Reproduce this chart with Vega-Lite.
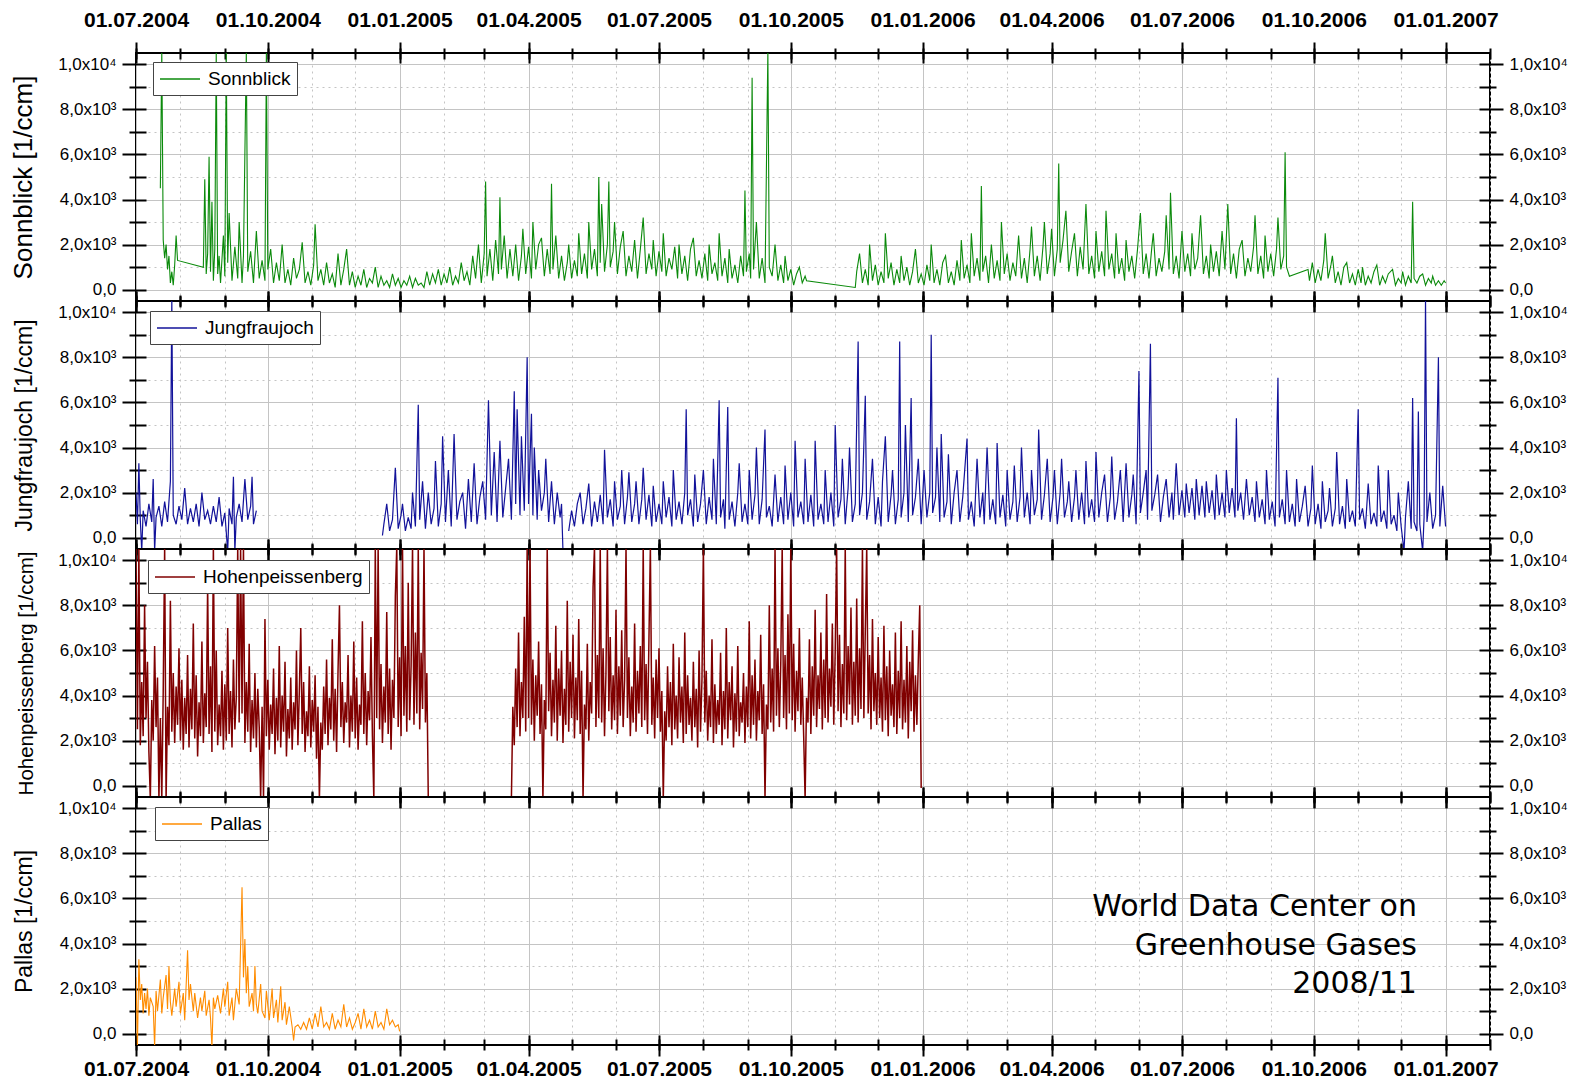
{
"$schema":"https://vega.github.io/schema/vega-lite/v6.json",
"background":"white",
"padding":{"left":9,"top":8,"right":0,"bottom":0},
"spacing":0,
"bounds":"flush",
"resolve":{"scale":{"color":"independent"}},
"config":{"font":"Liberation Sans","view":{"stroke":"#000","strokeWidth":2},
"axis":{"domain":false,"tickColor":"#000","tickWidth":2,"labelColor":"#000","titleColor":"#000","gridColor":"#c4c4c4","gridWidth":1,"titleFontWeight":"normal","labelFlush":false,"labelOverlap":false},
"legend":{"orient":"none","title":null,"symbolType":"M-1,0H3","symbolSize":400,"symbolStrokeWidth":1.5,"labelFontSize":19,"labelColor":"#000","strokeColor":"#444","fillColor":"#fff","padding":6,"labelOffset":27,"cornerRadius":0}},
"datasets":{
"son":[
{"d":"2004-07-18","v":4500},{"d":"2004-07-19","v":10600},{"d":"2004-07-20","v":2200},{"d":"2004-07-21","v":1400},{"d":"2004-07-22","v":2000},{"d":"2004-07-23","v":900},{"d":"2004-07-24","v":1500},{"d":"2004-07-25","v":300},{"d":"2004-07-26","v":800},{"d":"2004-07-27","v":200},{"d":"2004-07-28","v":1100},{"d":"2004-07-29","v":2400},{"d":"2004-07-30","v":1300},
{"d":"2004-08-17","v":1000},{"d":"2004-08-18","v":4900},{"d":"2004-08-19","v":700},{"d":"2004-08-20","v":1600},{"d":"2004-08-21","v":5900},{"d":"2004-08-22","v":800},{"d":"2004-08-23","v":3900},{"d":"2004-08-24","v":400},{"d":"2004-08-25","v":1800},{"d":"2004-08-26","v":10600},{"d":"2004-08-27","v":700},{"d":"2004-08-28","v":1500},{"d":"2004-08-29","v":300},{"d":"2004-08-31","v":2400},
{"d":"2004-09-01","v":600},{"d":"2004-09-02","v":10600},{"d":"2004-09-03","v":1200},{"d":"2004-09-04","v":3400},{"d":"2004-09-06","v":400},{"d":"2004-09-08","v":1900},{"d":"2004-09-10","v":500},{"d":"2004-09-11","v":3000},{"d":"2004-09-13","v":300},{"d":"2004-09-14","v":1500},{"d":"2004-09-16","v":10600},{"d":"2004-09-17","v":800},{"d":"2004-09-19","v":1700},{"d":"2004-09-21","v":300},{"d":"2004-09-23","v":2600},{"d":"2004-09-25","v":500},{"d":"2004-09-27","v":1300},{"d":"2004-09-29","v":400},{"d":"2004-09-30","v":10600},
{"d":"2004-10-01","v":900},{"d":"2004-10-03","v":1800},{"d":"2004-10-05","v":300},{"d":"2004-10-07","v":1200},{"d":"2004-10-09","v":400},{"d":"2004-10-11","v":2000},{"d":"2004-10-13","v":300},{"d":"2004-10-15","v":900},{"d":"2004-10-17","v":200},{"d":"2004-10-19","v":1400},{"d":"2004-10-21","v":500},{"d":"2004-10-23","v":900},{"d":"2004-10-25","v":2100},{"d":"2004-10-27","v":300},{"d":"2004-10-29","v":800},{"d":"2004-10-31","v":200},
{"d":"2004-11-02","v":1100},{"d":"2004-11-03","v":2900},{"d":"2004-11-05","v":400},{"d":"2004-11-07","v":900},{"d":"2004-11-09","v":200},{"d":"2004-11-11","v":1200},{"d":"2004-11-13","v":300},{"d":"2004-11-15","v":700},{"d":"2004-11-17","v":100},{"d":"2004-11-19","v":1600},{"d":"2004-11-21","v":200},{"d":"2004-11-23","v":900},{"d":"2004-11-25","v":1800},{"d":"2004-11-27","v":200},{"d":"2004-11-29","v":800},
{"d":"2004-12-01","v":100},{"d":"2004-12-03","v":600},{"d":"2004-12-05","v":200},{"d":"2004-12-07","v":900},{"d":"2004-12-09","v":100},{"d":"2004-12-11","v":500},{"d":"2004-12-13","v":300},{"d":"2004-12-15","v":1000},{"d":"2004-12-17","v":100},{"d":"2004-12-19","v":600},{"d":"2004-12-21","v":200},{"d":"2004-12-23","v":400},{"d":"2004-12-25","v":100},{"d":"2004-12-27","v":700},{"d":"2004-12-29","v":200},{"d":"2004-12-31","v":500},
{"d":"2005-01-02","v":100},{"d":"2005-01-04","v":400},{"d":"2005-01-06","v":200},{"d":"2005-01-08","v":600},{"d":"2005-01-10","v":100},{"d":"2005-01-12","v":500},{"d":"2005-01-14","v":200},{"d":"2005-01-16","v":300},{"d":"2005-01-18","v":100},{"d":"2005-01-20","v":800},{"d":"2005-01-22","v":200},{"d":"2005-01-24","v":700},{"d":"2005-01-26","v":300},{"d":"2005-01-28","v":900},{"d":"2005-01-30","v":200},
{"d":"2005-02-01","v":700},{"d":"2005-02-03","v":300},{"d":"2005-02-05","v":1000},{"d":"2005-02-07","v":200},{"d":"2005-02-09","v":600},{"d":"2005-02-11","v":300},{"d":"2005-02-13","v":1200},{"d":"2005-02-15","v":400},{"d":"2005-02-17","v":800},{"d":"2005-02-19","v":200},{"d":"2005-02-21","v":1500},{"d":"2005-02-23","v":500},{"d":"2005-02-25","v":2000},{"d":"2005-02-27","v":300},
{"d":"2005-03-01","v":1600},{"d":"2005-03-02","v":4800},{"d":"2005-03-03","v":600},{"d":"2005-03-05","v":1800},{"d":"2005-03-07","v":400},{"d":"2005-03-09","v":2200},{"d":"2005-03-11","v":700},{"d":"2005-03-12","v":4100},{"d":"2005-03-13","v":900},{"d":"2005-03-15","v":2400},{"d":"2005-03-17","v":500},{"d":"2005-03-19","v":1800},{"d":"2005-03-21","v":600},{"d":"2005-03-23","v":2000},{"d":"2005-03-25","v":400},{"d":"2005-03-27","v":1500},{"d":"2005-03-28","v":2700},{"d":"2005-03-30","v":700},
{"d":"2005-04-01","v":1900},{"d":"2005-04-03","v":500},{"d":"2005-04-04","v":3000},{"d":"2005-04-06","v":900},{"d":"2005-04-08","v":2000},{"d":"2005-04-10","v":2300},{"d":"2005-04-12","v":600},{"d":"2005-04-14","v":1800},{"d":"2005-04-16","v":700},{"d":"2005-04-17","v":4700},{"d":"2005-04-18","v":900},{"d":"2005-04-20","v":2400},{"d":"2005-04-22","v":500},{"d":"2005-04-24","v":1500},{"d":"2005-04-26","v":400},{"d":"2005-04-28","v":1200},{"d":"2005-04-29","v":2000},
{"d":"2005-05-01","v":500},{"d":"2005-05-03","v":1300},{"d":"2005-05-05","v":600},{"d":"2005-05-06","v":2500},{"d":"2005-05-08","v":700},{"d":"2005-05-10","v":1600},{"d":"2005-05-12","v":500},{"d":"2005-05-13","v":3000},{"d":"2005-05-15","v":900},{"d":"2005-05-17","v":1800},{"d":"2005-05-19","v":600},{"d":"2005-05-20","v":5000},{"d":"2005-05-21","v":1200},{"d":"2005-05-22","v":3800},{"d":"2005-05-24","v":800},{"d":"2005-05-26","v":2000},{"d":"2005-05-27","v":4800},{"d":"2005-05-28","v":1000},{"d":"2005-05-30","v":1700},{"d":"2005-05-31","v":3000},
{"d":"2005-06-02","v":700},{"d":"2005-06-04","v":1900},{"d":"2005-06-06","v":2600},{"d":"2005-06-08","v":600},{"d":"2005-06-10","v":1500},{"d":"2005-06-12","v":800},{"d":"2005-06-14","v":2200},{"d":"2005-06-16","v":500},{"d":"2005-06-18","v":1800},{"d":"2005-06-20","v":3200},{"d":"2005-06-22","v":700},{"d":"2005-06-24","v":1600},{"d":"2005-06-26","v":900},{"d":"2005-06-27","v":2200},{"d":"2005-06-29","v":600},
{"d":"2005-07-01","v":1700},{"d":"2005-07-03","v":800},{"d":"2005-07-04","v":2500},{"d":"2005-07-06","v":600},{"d":"2005-07-08","v":1400},{"d":"2005-07-10","v":900},{"d":"2005-07-12","v":1900},{"d":"2005-07-14","v":500},{"d":"2005-07-15","v":2000},{"d":"2005-07-17","v":700},{"d":"2005-07-19","v":1500},{"d":"2005-07-21","v":400},{"d":"2005-07-23","v":1800},{"d":"2005-07-25","v":2300},{"d":"2005-07-27","v":600},{"d":"2005-07-29","v":1300},{"d":"2005-07-31","v":500},
{"d":"2005-08-02","v":1600},{"d":"2005-08-04","v":400},{"d":"2005-08-05","v":2000},{"d":"2005-08-07","v":700},{"d":"2005-08-09","v":1200},{"d":"2005-08-11","v":400},{"d":"2005-08-12","v":2500},{"d":"2005-08-14","v":600},{"d":"2005-08-16","v":1400},{"d":"2005-08-18","v":300},{"d":"2005-08-19","v":1800},{"d":"2005-08-21","v":500},{"d":"2005-08-23","v":1100},{"d":"2005-08-25","v":300},{"d":"2005-08-27","v":1500},{"d":"2005-08-29","v":600},{"d":"2005-08-30","v":4400},{"d":"2005-08-31","v":800},
{"d":"2005-09-02","v":1600},{"d":"2005-09-03","v":500},{"d":"2005-09-04","v":9400},{"d":"2005-09-05","v":900},{"d":"2005-09-07","v":3000},{"d":"2005-09-09","v":500},{"d":"2005-09-11","v":1400},{"d":"2005-09-13","v":300},{"d":"2005-09-15","v":10600},{"d":"2005-09-16","v":1000},{"d":"2005-09-18","v":600},{"d":"2005-09-20","v":2000},{"d":"2005-09-22","v":400},{"d":"2005-09-24","v":1100},{"d":"2005-09-26","v":300},{"d":"2005-09-27","v":1500},{"d":"2005-09-29","v":400},
{"d":"2005-10-01","v":900},{"d":"2005-10-03","v":200},{"d":"2005-10-05","v":700},{"d":"2005-10-07","v":1000},{"d":"2005-10-09","v":300},{"d":"2005-10-11","v":600},{"d":"2005-10-12","v":400},
{"d":"2005-11-15","v":100},{"d":"2005-11-16","v":800},{"d":"2005-11-18","v":1600},{"d":"2005-11-20","v":300},{"d":"2005-11-22","v":900},{"d":"2005-11-24","v":200},{"d":"2005-11-25","v":2000},{"d":"2005-11-27","v":400},{"d":"2005-11-29","v":1100},
{"d":"2005-12-01","v":200},{"d":"2005-12-03","v":800},{"d":"2005-12-05","v":300},{"d":"2005-12-06","v":2500},{"d":"2005-12-08","v":500},{"d":"2005-12-10","v":1200},{"d":"2005-12-12","v":200},{"d":"2005-12-14","v":900},{"d":"2005-12-16","v":300},{"d":"2005-12-17","v":1500},{"d":"2005-12-19","v":400},{"d":"2005-12-21","v":1000},{"d":"2005-12-23","v":200},{"d":"2005-12-25","v":800},{"d":"2005-12-27","v":1800},{"d":"2005-12-29","v":300},{"d":"2005-12-31","v":700},
{"d":"2006-01-02","v":200},{"d":"2006-01-04","v":1100},{"d":"2006-01-06","v":400},{"d":"2006-01-07","v":2000},{"d":"2006-01-09","v":300},{"d":"2006-01-11","v":900},{"d":"2006-01-13","v":200},{"d":"2006-01-15","v":1200},{"d":"2006-01-17","v":1500},{"d":"2006-01-19","v":300},{"d":"2006-01-21","v":800},{"d":"2006-01-23","v":200},{"d":"2006-01-25","v":1300},{"d":"2006-01-27","v":400},{"d":"2006-01-28","v":2200},{"d":"2006-01-30","v":500},
{"d":"2006-02-01","v":1100},{"d":"2006-02-03","v":300},{"d":"2006-02-04","v":2500},{"d":"2006-02-06","v":600},{"d":"2006-02-08","v":1400},{"d":"2006-02-10","v":400},{"d":"2006-02-11","v":4600},{"d":"2006-02-12","v":800},{"d":"2006-02-14","v":1500},{"d":"2006-02-16","v":300},{"d":"2006-02-18","v":2000},{"d":"2006-02-20","v":500},{"d":"2006-02-22","v":1300},{"d":"2006-02-24","v":400},{"d":"2006-02-25","v":3000},{"d":"2006-02-27","v":700},
{"d":"2006-03-01","v":1600},{"d":"2006-03-03","v":400},{"d":"2006-03-05","v":1200},{"d":"2006-03-07","v":600},{"d":"2006-03-09","v":2400},{"d":"2006-03-11","v":500},{"d":"2006-03-13","v":1400},{"d":"2006-03-15","v":300},{"d":"2006-03-17","v":1800},{"d":"2006-03-18","v":2800},{"d":"2006-03-20","v":600},{"d":"2006-03-22","v":1500},{"d":"2006-03-24","v":400},{"d":"2006-03-26","v":1900},{"d":"2006-03-27","v":3000},{"d":"2006-03-29","v":700},{"d":"2006-03-31","v":1600},
{"d":"2006-04-01","v":2700},{"d":"2006-04-03","v":600},{"d":"2006-04-05","v":1800},{"d":"2006-04-06","v":5600},{"d":"2006-04-07","v":1200},{"d":"2006-04-09","v":2200},{"d":"2006-04-11","v":3500},{"d":"2006-04-13","v":800},{"d":"2006-04-15","v":1700},{"d":"2006-04-17","v":2500},{"d":"2006-04-19","v":600},{"d":"2006-04-21","v":1900},{"d":"2006-04-23","v":900},{"d":"2006-04-25","v":3800},{"d":"2006-04-27","v":700},{"d":"2006-04-29","v":1500},
{"d":"2006-05-01","v":500},{"d":"2006-05-02","v":2600},{"d":"2006-05-04","v":800},{"d":"2006-05-06","v":1700},{"d":"2006-05-08","v":600},{"d":"2006-05-09","v":3500},{"d":"2006-05-11","v":900},{"d":"2006-05-13","v":1600},{"d":"2006-05-15","v":500},{"d":"2006-05-16","v":2500},{"d":"2006-05-18","v":700},{"d":"2006-05-20","v":1400},{"d":"2006-05-22","v":400},{"d":"2006-05-23","v":2200},{"d":"2006-05-25","v":800},{"d":"2006-05-27","v":1500},{"d":"2006-05-29","v":500},{"d":"2006-05-31","v":1800},
{"d":"2006-06-02","v":3400},{"d":"2006-06-04","v":700},{"d":"2006-06-06","v":1600},{"d":"2006-06-08","v":500},{"d":"2006-06-10","v":1900},{"d":"2006-06-11","v":2500},{"d":"2006-06-13","v":600},{"d":"2006-06-15","v":1400},{"d":"2006-06-17","v":800},{"d":"2006-06-19","v":1700},{"d":"2006-06-20","v":3300},{"d":"2006-06-22","v":900},{"d":"2006-06-23","v":4300},{"d":"2006-06-25","v":700},{"d":"2006-06-27","v":1500},{"d":"2006-06-29","v":500},
{"d":"2006-07-01","v":2600},{"d":"2006-07-03","v":800},{"d":"2006-07-05","v":1600},{"d":"2006-07-07","v":600},{"d":"2006-07-08","v":2500},{"d":"2006-07-10","v":900},{"d":"2006-07-12","v":1400},{"d":"2006-07-14","v":3300},{"d":"2006-07-16","v":700},{"d":"2006-07-18","v":1500},{"d":"2006-07-20","v":500},{"d":"2006-07-21","v":2000},{"d":"2006-07-23","v":800},{"d":"2006-07-25","v":1700},{"d":"2006-07-27","v":600},{"d":"2006-07-29","v":2600},{"d":"2006-07-31","v":900},
{"d":"2006-08-02","v":3800},{"d":"2006-08-04","v":700},{"d":"2006-08-06","v":1600},{"d":"2006-08-08","v":500},{"d":"2006-08-10","v":1800},{"d":"2006-08-12","v":2200},{"d":"2006-08-14","v":600},{"d":"2006-08-16","v":1400},{"d":"2006-08-18","v":800},{"d":"2006-08-20","v":1900},{"d":"2006-08-21","v":3300},{"d":"2006-08-23","v":700},{"d":"2006-08-25","v":1500},{"d":"2006-08-27","v":500},{"d":"2006-08-28","v":2400},{"d":"2006-08-30","v":800},
{"d":"2006-09-01","v":1600},{"d":"2006-09-03","v":600},{"d":"2006-09-05","v":1800},{"d":"2006-09-06","v":3200},{"d":"2006-09-08","v":900},{"d":"2006-09-10","v":1500},{"d":"2006-09-11","v":6100},{"d":"2006-09-12","v":1000},{"d":"2006-09-14","v":600},
{"d":"2006-09-27","v":900},{"d":"2006-09-28","v":400},{"d":"2006-09-30","v":1200},{"d":"2006-10-02","v":300},{"d":"2006-10-04","v":900},{"d":"2006-10-06","v":400},{"d":"2006-10-08","v":1300},{"d":"2006-10-09","v":2500},{"d":"2006-10-11","v":500},{"d":"2006-10-13","v":1100},{"d":"2006-10-14","v":1500},{"d":"2006-10-16","v":300},{"d":"2006-10-18","v":800},{"d":"2006-10-20","v":200},{"d":"2006-10-22","v":1000},{"d":"2006-10-24","v":1200},{"d":"2006-10-26","v":300},{"d":"2006-10-28","v":700},{"d":"2006-10-30","v":200},
{"d":"2006-11-01","v":900},{"d":"2006-11-03","v":300},{"d":"2006-11-04","v":1000},{"d":"2006-11-06","v":200},{"d":"2006-11-08","v":600},{"d":"2006-11-10","v":300},{"d":"2006-11-12","v":800},{"d":"2006-11-14","v":1100},{"d":"2006-11-16","v":200},{"d":"2006-11-18","v":600},{"d":"2006-11-20","v":300},{"d":"2006-11-22","v":700},{"d":"2006-11-25","v":900},{"d":"2006-11-27","v":200},{"d":"2006-11-29","v":500},
{"d":"2006-12-01","v":300},{"d":"2006-12-02","v":800},{"d":"2006-12-04","v":200},{"d":"2006-12-06","v":600},{"d":"2006-12-08","v":300},{"d":"2006-12-09","v":3900},{"d":"2006-12-10","v":500},{"d":"2006-12-12","v":300},{"d":"2006-12-14","v":600},{"d":"2006-12-16","v":700},{"d":"2006-12-18","v":200},{"d":"2006-12-20","v":500},{"d":"2006-12-22","v":300},{"d":"2006-12-23","v":600},{"d":"2006-12-25","v":200},{"d":"2006-12-27","v":400},{"d":"2006-12-29","v":200},{"d":"2006-12-31","v":400},{"d":"2007-01-01","v":300}
],
"jun":[
{"d":"2004-07-01","v":2000},{"d":"2004-07-02","v":600},{"d":"2004-07-03","v":3300},{"d":"2004-07-04","v":800},{"d":"2004-07-05","v":-600},{"d":"2004-07-06","v":1200},{"d":"2004-07-08","v":500},{"d":"2004-07-10","v":1500},{"d":"2004-07-12","v":700},{"d":"2004-07-13","v":2600},{"d":"2004-07-14","v":-600},{"d":"2004-07-15","v":900},{"d":"2004-07-17","v":1400},{"d":"2004-07-19","v":500},{"d":"2004-07-21","v":1600},{"d":"2004-07-23","v":700},{"d":"2004-07-25","v":2500},{"d":"2004-07-26","v":10600},{"d":"2004-07-27","v":1000},{"d":"2004-07-29","v":600},{"d":"2004-07-31","v":1400},
{"d":"2004-08-02","v":800},{"d":"2004-08-04","v":2200},{"d":"2004-08-06","v":600},{"d":"2004-08-08","v":1300},{"d":"2004-08-10","v":700},{"d":"2004-08-12","v":1500},{"d":"2004-08-14","v":500},{"d":"2004-08-16","v":2000},{"d":"2004-08-18","v":800},{"d":"2004-08-20","v":1200},{"d":"2004-08-22","v":600},{"d":"2004-08-24","v":1400},{"d":"2004-08-26","v":700},{"d":"2004-08-28","v":1800},{"d":"2004-08-30","v":500},
{"d":"2004-09-01","v":1100},{"d":"2004-09-03","v":-600},{"d":"2004-09-04","v":1300},{"d":"2004-09-06","v":600},{"d":"2004-09-07","v":2700},{"d":"2004-09-08","v":-600},{"d":"2004-09-09","v":900},{"d":"2004-09-11","v":1500},{"d":"2004-09-13","v":700},{"d":"2004-09-15","v":2600},{"d":"2004-09-17","v":800},{"d":"2004-09-19","v":1400},{"d":"2004-09-20","v":2700},{"d":"2004-09-21","v":600},{"d":"2004-09-23","v":1200},
{"d":"2004-11-01","v":null},
{"d":"2004-12-20","v":100},{"d":"2004-12-21","v":600},{"d":"2004-12-23","v":1500},{"d":"2004-12-25","v":300},{"d":"2004-12-27","v":800},{"d":"2004-12-29","v":3100},{"d":"2004-12-31","v":400},
{"d":"2005-01-02","v":1000},{"d":"2005-01-03","v":1500},{"d":"2005-01-05","v":300},{"d":"2005-01-07","v":900},{"d":"2005-01-09","v":400},{"d":"2005-01-10","v":2000},{"d":"2005-01-12","v":500},{"d":"2005-01-14","v":5900},{"d":"2005-01-15","v":800},{"d":"2005-01-17","v":2500},{"d":"2005-01-19","v":400},{"d":"2005-01-21","v":2000},{"d":"2005-01-23","v":600},{"d":"2005-01-25","v":1300},{"d":"2005-01-26","v":3400},{"d":"2005-01-28","v":500},{"d":"2005-01-30","v":1500},{"d":"2005-01-31","v":4500},
{"d":"2005-02-02","v":700},{"d":"2005-02-04","v":3000},{"d":"2005-02-06","v":500},{"d":"2005-02-08","v":4600},{"d":"2005-02-10","v":800},{"d":"2005-02-12","v":1600},{"d":"2005-02-14","v":2000},{"d":"2005-02-16","v":400},{"d":"2005-02-18","v":2600},{"d":"2005-02-20","v":700},{"d":"2005-02-22","v":3300},{"d":"2005-02-24","v":600},{"d":"2005-02-26","v":1800},{"d":"2005-02-28","v":2500},
{"d":"2005-03-02","v":800},{"d":"2005-03-04","v":6100},{"d":"2005-03-06","v":1000},{"d":"2005-03-08","v":3800},{"d":"2005-03-10","v":700},{"d":"2005-03-12","v":4300},{"d":"2005-03-14","v":900},{"d":"2005-03-16","v":2200},{"d":"2005-03-18","v":3500},{"d":"2005-03-20","v":800},{"d":"2005-03-22","v":6500},{"d":"2005-03-23","v":1500},{"d":"2005-03-24","v":5700},{"d":"2005-03-26","v":1000},{"d":"2005-03-27","v":4500},{"d":"2005-03-29","v":1200},{"d":"2005-03-31","v":8000},
{"d":"2005-04-01","v":1500},{"d":"2005-04-03","v":5500},{"d":"2005-04-04","v":1000},{"d":"2005-04-05","v":4000},{"d":"2005-04-07","v":800},{"d":"2005-04-08","v":3000},{"d":"2005-04-10","v":1200},{"d":"2005-04-12","v":2000},{"d":"2005-04-13","v":3500},{"d":"2005-04-15","v":700},{"d":"2005-04-17","v":2500},{"d":"2005-04-19","v":600},{"d":"2005-04-21","v":2000},{"d":"2005-04-23","v":900},{"d":"2005-04-24","v":1500},{"d":"2005-04-25","v":-600},
{"d":"2005-04-27","v":null},
{"d":"2005-04-29","v":300},{"d":"2005-05-01","v":1200},{"d":"2005-05-03","v":500},{"d":"2005-05-05","v":1500},{"d":"2005-05-07","v":2000},{"d":"2005-05-09","v":600},{"d":"2005-05-11","v":1300},{"d":"2005-05-13","v":2400},{"d":"2005-05-15","v":500},{"d":"2005-05-17","v":1600},{"d":"2005-05-19","v":700},{"d":"2005-05-21","v":1900},{"d":"2005-05-23","v":600},{"d":"2005-05-24","v":3900},{"d":"2005-05-26","v":900},{"d":"2005-05-28","v":1700},{"d":"2005-05-30","v":500},{"d":"2005-05-31","v":2500},
{"d":"2005-06-02","v":800},{"d":"2005-06-04","v":1400},{"d":"2005-06-05","v":3000},{"d":"2005-06-07","v":600},{"d":"2005-06-09","v":1800},{"d":"2005-06-10","v":2900},{"d":"2005-06-12","v":700},{"d":"2005-06-14","v":1500},{"d":"2005-06-15","v":2500},{"d":"2005-06-17","v":600},{"d":"2005-06-19","v":1700},{"d":"2005-06-20","v":3100},{"d":"2005-06-22","v":800},{"d":"2005-06-24","v":1900},{"d":"2005-06-26","v":500},{"d":"2005-06-27","v":2300},{"d":"2005-06-29","v":700},
{"d":"2005-07-01","v":1500},{"d":"2005-07-03","v":600},{"d":"2005-07-04","v":2500},{"d":"2005-07-06","v":900},{"d":"2005-07-08","v":1800},{"d":"2005-07-10","v":500},{"d":"2005-07-11","v":3000},{"d":"2005-07-13","v":800},{"d":"2005-07-15","v":1600},{"d":"2005-07-17","v":600},{"d":"2005-07-19","v":2000},{"d":"2005-07-20","v":5700},{"d":"2005-07-21","v":1000},{"d":"2005-07-23","v":1700},{"d":"2005-07-25","v":500},{"d":"2005-07-26","v":2800},{"d":"2005-07-28","v":700},{"d":"2005-07-30","v":1500},
{"d":"2005-08-01","v":3000},{"d":"2005-08-03","v":600},{"d":"2005-08-05","v":1800},{"d":"2005-08-07","v":800},{"d":"2005-08-08","v":3500},{"d":"2005-08-10","v":600},{"d":"2005-08-12","v":6100},{"d":"2005-08-13","v":900},{"d":"2005-08-15","v":1700},{"d":"2005-08-16","v":400},{"d":"2005-08-18","v":5800},{"d":"2005-08-19","v":800},{"d":"2005-08-21","v":1600},{"d":"2005-08-23","v":500},{"d":"2005-08-25","v":2000},{"d":"2005-08-26","v":3300},{"d":"2005-08-28","v":700},{"d":"2005-08-30","v":1500},
{"d":"2005-09-01","v":600},{"d":"2005-09-02","v":3000},{"d":"2005-09-04","v":800},{"d":"2005-09-06","v":1900},{"d":"2005-09-07","v":4000},{"d":"2005-09-09","v":600},{"d":"2005-09-11","v":1700},{"d":"2005-09-13","v":4800},{"d":"2005-09-14","v":900},{"d":"2005-09-16","v":1400},{"d":"2005-09-18","v":500},{"d":"2005-09-20","v":2800},{"d":"2005-09-22","v":700},{"d":"2005-09-24","v":1800},{"d":"2005-09-26","v":600},{"d":"2005-09-27","v":3200},{"d":"2005-09-29","v":800},
{"d":"2005-10-01","v":2000},{"d":"2005-10-03","v":500},{"d":"2005-10-04","v":4300},{"d":"2005-10-06","v":900},{"d":"2005-10-08","v":1600},{"d":"2005-10-10","v":600},{"d":"2005-10-11","v":3500},{"d":"2005-10-13","v":700},{"d":"2005-10-15","v":1900},{"d":"2005-10-17","v":500},{"d":"2005-10-18","v":4300},{"d":"2005-10-20","v":800},{"d":"2005-10-22","v":1500},{"d":"2005-10-24","v":600},{"d":"2005-10-25","v":3000},{"d":"2005-10-27","v":700},{"d":"2005-10-29","v":2000},{"d":"2005-10-31","v":500},
{"d":"2005-11-01","v":5000},{"d":"2005-11-03","v":900},{"d":"2005-11-05","v":1700},{"d":"2005-11-06","v":3500},{"d":"2005-11-08","v":600},{"d":"2005-11-10","v":2200},{"d":"2005-11-11","v":4000},{"d":"2005-11-13","v":700},{"d":"2005-11-15","v":1500},{"d":"2005-11-17","v":8700},{"d":"2005-11-18","v":1000},{"d":"2005-11-20","v":2000},{"d":"2005-11-22","v":6300},{"d":"2005-11-23","v":800},{"d":"2005-11-25","v":1600},{"d":"2005-11-27","v":3500},{"d":"2005-11-29","v":600},
{"d":"2005-12-01","v":1800},{"d":"2005-12-03","v":500},{"d":"2005-12-04","v":2500},{"d":"2005-12-06","v":4500},{"d":"2005-12-08","v":700},{"d":"2005-12-10","v":1900},{"d":"2005-12-11","v":3000},{"d":"2005-12-13","v":600},{"d":"2005-12-15","v":1700},{"d":"2005-12-16","v":8700},{"d":"2005-12-17","v":900},{"d":"2005-12-19","v":2000},{"d":"2005-12-20","v":5000},{"d":"2005-12-22","v":700},{"d":"2005-12-24","v":6200},{"d":"2005-12-25","v":1000},{"d":"2005-12-27","v":1800},{"d":"2005-12-29","v":3500},{"d":"2005-12-31","v":600},
{"d":"2006-01-02","v":3000},{"d":"2006-01-04","v":900},{"d":"2006-01-06","v":2000},{"d":"2006-01-07","v":9000},{"d":"2006-01-08","v":1100},{"d":"2006-01-10","v":1800},{"d":"2006-01-11","v":4000},{"d":"2006-01-13","v":700},{"d":"2006-01-14","v":4600},{"d":"2006-01-16","v":900},{"d":"2006-01-18","v":1600},{"d":"2006-01-19","v":3700},{"d":"2006-01-21","v":600},{"d":"2006-01-23","v":2000},{"d":"2006-01-25","v":3000},{"d":"2006-01-27","v":700},{"d":"2006-01-29","v":1800},
{"d":"2006-02-01","v":4400},{"d":"2006-02-02","v":800},{"d":"2006-02-04","v":1600},{"d":"2006-02-06","v":500},{"d":"2006-02-08","v":3500},{"d":"2006-02-10","v":900},{"d":"2006-02-12","v":2000},{"d":"2006-02-13","v":600},{"d":"2006-02-15","v":4000},{"d":"2006-02-17","v":800},{"d":"2006-02-19","v":1700},{"d":"2006-02-21","v":600},{"d":"2006-02-22","v":4200},{"d":"2006-02-24","v":900},{"d":"2006-02-26","v":1900},{"d":"2006-02-28","v":500},
{"d":"2006-03-01","v":3000},{"d":"2006-03-03","v":800},{"d":"2006-03-05","v":1600},{"d":"2006-03-06","v":3200},{"d":"2006-03-08","v":700},{"d":"2006-03-10","v":1800},{"d":"2006-03-11","v":4000},{"d":"2006-03-13","v":900},{"d":"2006-03-15","v":2000},{"d":"2006-03-17","v":600},{"d":"2006-03-18","v":3000},{"d":"2006-03-20","v":1000},{"d":"2006-03-22","v":1700},{"d":"2006-03-23","v":4800},{"d":"2006-03-25","v":800},{"d":"2006-03-27","v":1900},{"d":"2006-03-29","v":3500},{"d":"2006-03-31","v":700},
{"d":"2006-04-02","v":1800},{"d":"2006-04-03","v":3000},{"d":"2006-04-05","v":600},{"d":"2006-04-07","v":2000},{"d":"2006-04-08","v":3500},{"d":"2006-04-10","v":900},{"d":"2006-04-12","v":1600},{"d":"2006-04-13","v":2500},{"d":"2006-04-15","v":700},{"d":"2006-04-17","v":1800},{"d":"2006-04-18","v":3000},{"d":"2006-04-20","v":800},{"d":"2006-04-22","v":2000},{"d":"2006-04-24","v":600},{"d":"2006-04-25","v":3400},{"d":"2006-04-27","v":900},{"d":"2006-04-29","v":1700},
{"d":"2006-05-01","v":700},{"d":"2006-05-02","v":3800},{"d":"2006-05-04","v":900},{"d":"2006-05-06","v":2000},{"d":"2006-05-08","v":2800},{"d":"2006-05-10","v":700},{"d":"2006-05-12","v":1800},{"d":"2006-05-13","v":3600},{"d":"2006-05-15","v":800},{"d":"2006-05-17","v":1600},{"d":"2006-05-19","v":3000},{"d":"2006-05-21","v":700},{"d":"2006-05-23","v":3300},{"d":"2006-05-25","v":900},{"d":"2006-05-27","v":1900},{"d":"2006-05-28","v":2800},{"d":"2006-05-30","v":600},
{"d":"2006-06-01","v":7400},{"d":"2006-06-02","v":1100},{"d":"2006-06-04","v":2000},{"d":"2006-06-06","v":3000},{"d":"2006-06-07","v":800},{"d":"2006-06-09","v":8600},{"d":"2006-06-10","v":1200},{"d":"2006-06-12","v":1900},{"d":"2006-06-14","v":2800},{"d":"2006-06-16","v":700},{"d":"2006-06-18","v":1800},{"d":"2006-06-20","v":2600},{"d":"2006-06-22","v":900},{"d":"2006-06-24","v":2000},{"d":"2006-06-25","v":800},{"d":"2006-06-27","v":3300},{"d":"2006-06-29","v":1000},
{"d":"2006-07-01","v":2100},{"d":"2006-07-03","v":900},{"d":"2006-07-04","v":2400},{"d":"2006-07-06","v":1100},{"d":"2006-07-08","v":2200},{"d":"2006-07-10","v":800},{"d":"2006-07-11","v":2600},{"d":"2006-07-13","v":1000},{"d":"2006-07-15","v":2300},{"d":"2006-07-17","v":900},{"d":"2006-07-18","v":2500},{"d":"2006-07-20","v":1100},{"d":"2006-07-22","v":2100},{"d":"2006-07-24","v":800},{"d":"2006-07-25","v":2800},{"d":"2006-07-27","v":1000},{"d":"2006-07-29","v":2000},{"d":"2006-07-31","v":900},
{"d":"2006-08-01","v":3000},{"d":"2006-08-03","v":1100},{"d":"2006-08-05","v":2200},{"d":"2006-08-07","v":900},{"d":"2006-08-08","v":5300},{"d":"2006-08-09","v":1200},{"d":"2006-08-11","v":2000},{"d":"2006-08-13","v":800},{"d":"2006-08-15","v":2600},{"d":"2006-08-17","v":1000},{"d":"2006-08-19","v":1800},{"d":"2006-08-21","v":700},{"d":"2006-08-22","v":2500},{"d":"2006-08-24","v":900},{"d":"2006-08-26","v":1700},{"d":"2006-08-28","v":600},{"d":"2006-08-29","v":3000},{"d":"2006-08-31","v":800},
{"d":"2006-09-02","v":1600},{"d":"2006-09-04","v":500},{"d":"2006-09-06","v":7100},{"d":"2006-09-07","v":900},{"d":"2006-09-09","v":1700},{"d":"2006-09-11","v":600},{"d":"2006-09-12","v":3000},{"d":"2006-09-14","v":700},{"d":"2006-09-16","v":1500},{"d":"2006-09-18","v":500},{"d":"2006-09-19","v":2600},{"d":"2006-09-21","v":700},{"d":"2006-09-23","v":1400},{"d":"2006-09-25","v":2300},{"d":"2006-09-27","v":500},{"d":"2006-09-29","v":1300},{"d":"2006-09-30","v":3200},
{"d":"2006-10-02","v":600},{"d":"2006-10-04","v":1500},{"d":"2006-10-06","v":400},{"d":"2006-10-07","v":2500},{"d":"2006-10-09","v":700},{"d":"2006-10-11","v":1200},{"d":"2006-10-12","v":2200},{"d":"2006-10-14","v":500},{"d":"2006-10-16","v":1300},{"d":"2006-10-17","v":3800},{"d":"2006-10-19","v":600},{"d":"2006-10-21","v":1400},{"d":"2006-10-23","v":400},{"d":"2006-10-24","v":2600},{"d":"2006-10-26","v":700},{"d":"2006-10-28","v":1200},{"d":"2006-10-30","v":500},
{"d":"2006-11-01","v":5700},{"d":"2006-11-02","v":800},{"d":"2006-11-04","v":1300},{"d":"2006-11-06","v":400},{"d":"2006-11-08","v":2400},{"d":"2006-11-10","v":600},{"d":"2006-11-12","v":1100},{"d":"2006-11-14","v":500},{"d":"2006-11-15","v":3200},{"d":"2006-11-17","v":700},{"d":"2006-11-19","v":1200},{"d":"2006-11-21","v":400},{"d":"2006-11-22","v":3000},{"d":"2006-11-24","v":600},{"d":"2006-11-26","v":1000},{"d":"2006-11-28","v":300},{"d":"2006-11-29","v":2000},
{"d":"2006-12-01","v":500},{"d":"2006-12-03","v":-600},{"d":"2006-12-04","v":900},{"d":"2006-12-06","v":2500},{"d":"2006-12-08","v":400},{"d":"2006-12-09","v":6200},{"d":"2006-12-10","v":700},{"d":"2006-12-12","v":300},{"d":"2006-12-13","v":5600},{"d":"2006-12-14","v":600},{"d":"2006-12-16","v":-600},{"d":"2006-12-17","v":900},{"d":"2006-12-18","v":10600},{"d":"2006-12-19","v":700},{"d":"2006-12-21","v":2000},{"d":"2006-12-23","v":400},{"d":"2006-12-25","v":1000},{"d":"2006-12-27","v":8000},{"d":"2006-12-28","v":500},{"d":"2006-12-30","v":2300},{"d":"2007-01-01","v":500}
],
"hoh":[
{"d":"2004-07-01","v":10600},{"d":"2004-07-02","v":2500},{"d":"2004-07-03","v":10600},{"d":"2004-07-04","v":1800},{"d":"2004-07-05","v":4600},{"d":"2004-07-06","v":2200},{"d":"2004-07-07","v":8000},{"d":"2004-07-08","v":3000},{"d":"2004-07-09","v":5500},{"d":"2004-07-10","v":1500},{"d":"2004-07-11","v":-600},{"d":"2004-07-12","v":3800},{"d":"2004-07-13","v":2000},{"d":"2004-07-14","v":6200},{"d":"2004-07-15","v":2600},{"d":"2004-07-16","v":4800},{"d":"2004-07-17","v":-600},{"d":"2004-07-18","v":3000},{"d":"2004-07-19","v":-600},{"d":"2004-07-20","v":4200},{"d":"2004-07-21","v":10600},{"d":"2004-07-22","v":-600},{"d":"2004-07-23","v":3500},{"d":"2004-07-24","v":1800},{"d":"2004-07-25","v":8200},{"d":"2004-07-26","v":2400},{"d":"2004-07-27","v":5000},{"d":"2004-07-28","v":1900},{"d":"2004-07-29","v":4400},{"d":"2004-07-30","v":2700},{"d":"2004-07-31","v":6100},
{"d":"2004-08-01","v":2000},{"d":"2004-08-02","v":4700},{"d":"2004-08-03","v":1600},{"d":"2004-08-04","v":3900},{"d":"2004-08-05","v":2300},{"d":"2004-08-06","v":5800},{"d":"2004-08-07","v":1700},{"d":"2004-08-08","v":4300},{"d":"2004-08-09","v":2500},{"d":"2004-08-10","v":7200},{"d":"2004-08-11","v":2100},{"d":"2004-08-12","v":4900},{"d":"2004-08-13","v":1300},{"d":"2004-08-14","v":3700},{"d":"2004-08-15","v":2200},{"d":"2004-08-16","v":6400},{"d":"2004-08-17","v":1900},{"d":"2004-08-18","v":4100},{"d":"2004-08-19","v":2600},{"d":"2004-08-20","v":8900},{"d":"2004-08-21","v":2300},{"d":"2004-08-22","v":5300},{"d":"2004-08-23","v":1500},{"d":"2004-08-24","v":10600},{"d":"2004-08-25","v":2400},{"d":"2004-08-26","v":6000},{"d":"2004-08-27","v":1800},{"d":"2004-08-28","v":3600},{"d":"2004-08-29","v":2200},{"d":"2004-08-30","v":5100},{"d":"2004-08-31","v":1600},
{"d":"2004-09-01","v":4500},{"d":"2004-09-02","v":2000},{"d":"2004-09-03","v":7000},{"d":"2004-09-04","v":2300},{"d":"2004-09-05","v":4200},{"d":"2004-09-06","v":1700},{"d":"2004-09-07","v":5600},{"d":"2004-09-08","v":2500},{"d":"2004-09-09","v":3900},{"d":"2004-09-10","v":10600},{"d":"2004-09-11","v":2800},{"d":"2004-09-12","v":10600},{"d":"2004-09-13","v":3200},{"d":"2004-09-14","v":10600},{"d":"2004-09-15","v":1900},{"d":"2004-09-16","v":4600},{"d":"2004-09-17","v":2400},{"d":"2004-09-18","v":6300},{"d":"2004-09-19","v":1500},{"d":"2004-09-20","v":3800},{"d":"2004-09-21","v":2100},{"d":"2004-09-22","v":5000},{"d":"2004-09-23","v":1700},{"d":"2004-09-24","v":4300},{"d":"2004-09-25","v":2600},{"d":"2004-09-26","v":-600},{"d":"2004-09-27","v":3500},{"d":"2004-09-28","v":-600},{"d":"2004-09-29","v":7400},{"d":"2004-09-30","v":2200},
{"d":"2004-10-01","v":4700},{"d":"2004-10-02","v":1600},{"d":"2004-10-03","v":3600},{"d":"2004-10-04","v":2300},{"d":"2004-10-05","v":5200},{"d":"2004-10-06","v":1400},{"d":"2004-10-07","v":3900},{"d":"2004-10-08","v":2000},{"d":"2004-10-09","v":6200},{"d":"2004-10-10","v":1700},{"d":"2004-10-11","v":4000},{"d":"2004-10-12","v":2400},{"d":"2004-10-13","v":5500},{"d":"2004-10-14","v":1300},{"d":"2004-10-15","v":3400},{"d":"2004-10-16","v":2100},{"d":"2004-10-17","v":4800},{"d":"2004-10-18","v":1600},{"d":"2004-10-19","v":3700},{"d":"2004-10-20","v":2500},{"d":"2004-10-21","v":6000},{"d":"2004-10-22","v":1800},{"d":"2004-10-23","v":4200},{"d":"2004-10-24","v":7000},{"d":"2004-10-25","v":2300},{"d":"2004-10-26","v":4600},{"d":"2004-10-27","v":1500},{"d":"2004-10-28","v":3300},{"d":"2004-10-29","v":2200},{"d":"2004-10-30","v":5300},{"d":"2004-10-31","v":1700},
{"d":"2004-11-01","v":3800},{"d":"2004-11-02","v":2400},{"d":"2004-11-03","v":4900},{"d":"2004-11-04","v":1200},{"d":"2004-11-05","v":3500},{"d":"2004-11-06","v":-600},{"d":"2004-11-07","v":2800},{"d":"2004-11-08","v":1600},{"d":"2004-11-09","v":4400},{"d":"2004-11-10","v":2300},{"d":"2004-11-11","v":5600},{"d":"2004-11-12","v":1800},{"d":"2004-11-13","v":3900},{"d":"2004-11-14","v":2500},{"d":"2004-11-15","v":6500},{"d":"2004-11-16","v":2000},{"d":"2004-11-17","v":4300},{"d":"2004-11-18","v":1500},{"d":"2004-11-19","v":5100},{"d":"2004-11-20","v":8000},{"d":"2004-11-21","v":2600},{"d":"2004-11-22","v":4600},{"d":"2004-11-23","v":1900},{"d":"2004-11-24","v":3700},{"d":"2004-11-25","v":2800},{"d":"2004-11-26","v":5800},{"d":"2004-11-27","v":1700},{"d":"2004-11-28","v":4000},{"d":"2004-11-29","v":2400},{"d":"2004-11-30","v":6400},
{"d":"2004-12-01","v":2100},{"d":"2004-12-02","v":4800},{"d":"2004-12-03","v":1600},{"d":"2004-12-04","v":3600},{"d":"2004-12-05","v":2700},{"d":"2004-12-06","v":7300},{"d":"2004-12-07","v":2300},{"d":"2004-12-08","v":5000},{"d":"2004-12-09","v":1800},{"d":"2004-12-10","v":4200},{"d":"2004-12-11","v":2900},{"d":"2004-12-12","v":6600},{"d":"2004-12-13","v":2200},{"d":"2004-12-14","v":-600},{"d":"2004-12-15","v":10600},{"d":"2004-12-16","v":3000},{"d":"2004-12-17","v":10600},{"d":"2004-12-18","v":2500},{"d":"2004-12-19","v":5400},{"d":"2004-12-20","v":1900},{"d":"2004-12-21","v":4400},{"d":"2004-12-22","v":2800},{"d":"2004-12-23","v":7700},{"d":"2004-12-24","v":2300},{"d":"2004-12-25","v":5200},{"d":"2004-12-26","v":1600},{"d":"2004-12-27","v":4700},{"d":"2004-12-28","v":3000},{"d":"2004-12-29","v":8400},{"d":"2004-12-30","v":10600},{"d":"2004-12-31","v":2600},
{"d":"2005-01-01","v":5700},{"d":"2005-01-02","v":2200},{"d":"2005-01-03","v":10600},{"d":"2005-01-04","v":3100},{"d":"2005-01-05","v":6200},{"d":"2005-01-06","v":2400},{"d":"2005-01-07","v":9000},{"d":"2005-01-08","v":2900},{"d":"2005-01-09","v":5300},{"d":"2005-01-10","v":10600},{"d":"2005-01-11","v":2700},{"d":"2005-01-12","v":6800},{"d":"2005-01-13","v":3200},{"d":"2005-01-14","v":10600},{"d":"2005-01-15","v":2500},{"d":"2005-01-16","v":5900},{"d":"2005-01-17","v":3400},{"d":"2005-01-18","v":10600},{"d":"2005-01-19","v":2800},{"d":"2005-01-20","v":5000},{"d":"2005-01-21","v":-600},
{"d":"2005-02-15","v":null},
{"d":"2005-03-20","v":-600},{"d":"2005-03-21","v":3500},{"d":"2005-03-22","v":1800},{"d":"2005-03-23","v":5200},{"d":"2005-03-24","v":2600},{"d":"2005-03-25","v":6800},{"d":"2005-03-26","v":2200},{"d":"2005-03-27","v":4600},{"d":"2005-03-28","v":3000},{"d":"2005-03-29","v":7500},{"d":"2005-03-30","v":2400},{"d":"2005-03-31","v":10600},
{"d":"2005-04-01","v":3000},{"d":"2005-04-02","v":10600},{"d":"2005-04-03","v":2700},{"d":"2005-04-04","v":5600},{"d":"2005-04-05","v":2000},{"d":"2005-04-06","v":4900},{"d":"2005-04-07","v":3100},{"d":"2005-04-08","v":6400},{"d":"2005-04-09","v":2300},{"d":"2005-04-10","v":4500},{"d":"2005-04-11","v":-600},{"d":"2005-04-12","v":3800},{"d":"2005-04-13","v":2500},{"d":"2005-04-14","v":10600},{"d":"2005-04-15","v":3300},{"d":"2005-04-16","v":5900},{"d":"2005-04-17","v":2200},{"d":"2005-04-18","v":4700},{"d":"2005-04-19","v":2800},{"d":"2005-04-20","v":7100},{"d":"2005-04-21","v":2000},{"d":"2005-04-22","v":5200},{"d":"2005-04-23","v":3100},{"d":"2005-04-24","v":6000},{"d":"2005-04-25","v":1900},{"d":"2005-04-26","v":4300},{"d":"2005-04-27","v":2700},{"d":"2005-04-28","v":8200},{"d":"2005-04-29","v":2400},{"d":"2005-04-30","v":5500},
{"d":"2005-05-01","v":3000},{"d":"2005-05-02","v":6700},{"d":"2005-05-03","v":2100},{"d":"2005-05-04","v":4800},{"d":"2005-05-05","v":2900},{"d":"2005-05-06","v":7400},{"d":"2005-05-07","v":2300},{"d":"2005-05-08","v":5100},{"d":"2005-05-09","v":-600},{"d":"2005-05-10","v":3600},{"d":"2005-05-11","v":2500},{"d":"2005-05-12","v":6300},{"d":"2005-05-13","v":2000},{"d":"2005-05-14","v":4600},{"d":"2005-05-15","v":3200},{"d":"2005-05-16","v":8800},{"d":"2005-05-17","v":10600},{"d":"2005-05-18","v":2600},{"d":"2005-05-19","v":5800},{"d":"2005-05-20","v":3000},{"d":"2005-05-21","v":10600},{"d":"2005-05-22","v":2800},{"d":"2005-05-23","v":6100},{"d":"2005-05-24","v":2200},{"d":"2005-05-25","v":5000},{"d":"2005-05-26","v":10600},{"d":"2005-05-27","v":3300},{"d":"2005-05-28","v":6600},{"d":"2005-05-29","v":2500},{"d":"2005-05-30","v":4900},{"d":"2005-05-31","v":2900},
{"d":"2005-06-01","v":7800},{"d":"2005-06-02","v":2300},{"d":"2005-06-03","v":5300},{"d":"2005-06-04","v":3100},{"d":"2005-06-05","v":6900},{"d":"2005-06-06","v":2600},{"d":"2005-06-07","v":4700},{"d":"2005-06-08","v":10600},{"d":"2005-06-09","v":3000},{"d":"2005-06-10","v":5700},{"d":"2005-06-11","v":2200},{"d":"2005-06-12","v":4400},{"d":"2005-06-13","v":2800},{"d":"2005-06-14","v":7200},{"d":"2005-06-15","v":2400},{"d":"2005-06-16","v":5100},{"d":"2005-06-17","v":3200},{"d":"2005-06-18","v":6200},{"d":"2005-06-19","v":2600},{"d":"2005-06-20","v":10600},{"d":"2005-06-21","v":2900},{"d":"2005-06-22","v":5400},{"d":"2005-06-23","v":2300},{"d":"2005-06-24","v":6500},{"d":"2005-06-25","v":10600},{"d":"2005-06-26","v":2700},{"d":"2005-06-27","v":4800},{"d":"2005-06-28","v":2100},{"d":"2005-06-29","v":5600},{"d":"2005-06-30","v":3000},
{"d":"2005-07-01","v":6100},{"d":"2005-07-02","v":2400},{"d":"2005-07-03","v":4200},{"d":"2005-07-04","v":-600},{"d":"2005-07-05","v":3300},{"d":"2005-07-06","v":2000},{"d":"2005-07-07","v":5300},{"d":"2005-07-08","v":2600},{"d":"2005-07-09","v":4600},{"d":"2005-07-10","v":1800},{"d":"2005-07-11","v":6300},{"d":"2005-07-12","v":2500},{"d":"2005-07-13","v":4000},{"d":"2005-07-14","v":2100},{"d":"2005-07-15","v":5700},{"d":"2005-07-16","v":2800},{"d":"2005-07-17","v":4400},{"d":"2005-07-18","v":1900},{"d":"2005-07-19","v":6800},{"d":"2005-07-20","v":2300},{"d":"2005-07-21","v":4900},{"d":"2005-07-22","v":2700},{"d":"2005-07-23","v":3900},{"d":"2005-07-24","v":2000},{"d":"2005-07-25","v":5500},{"d":"2005-07-26","v":2600},{"d":"2005-07-27","v":4300},{"d":"2005-07-28","v":1700},{"d":"2005-07-29","v":6000},{"d":"2005-07-30","v":2400},{"d":"2005-07-31","v":4700},
{"d":"2005-08-01","v":10600},{"d":"2005-08-02","v":2800},{"d":"2005-08-03","v":5100},{"d":"2005-08-04","v":2000},{"d":"2005-08-05","v":4000},{"d":"2005-08-06","v":2600},{"d":"2005-08-07","v":6500},{"d":"2005-08-08","v":1900},{"d":"2005-08-09","v":4500},{"d":"2005-08-10","v":2300},{"d":"2005-08-11","v":3800},{"d":"2005-08-12","v":2700},{"d":"2005-08-13","v":5900},{"d":"2005-08-14","v":1800},{"d":"2005-08-15","v":4200},{"d":"2005-08-16","v":2500},{"d":"2005-08-17","v":7000},{"d":"2005-08-18","v":2100},{"d":"2005-08-19","v":4600},{"d":"2005-08-20","v":2900},{"d":"2005-08-21","v":5300},{"d":"2005-08-22","v":1700},{"d":"2005-08-23","v":4100},{"d":"2005-08-24","v":2400},{"d":"2005-08-25","v":6200},{"d":"2005-08-26","v":2200},{"d":"2005-08-27","v":3700},{"d":"2005-08-28","v":2800},{"d":"2005-08-29","v":5000},{"d":"2005-08-30","v":1900},{"d":"2005-08-31","v":4400},
{"d":"2005-09-01","v":2600},{"d":"2005-09-02","v":7300},{"d":"2005-09-03","v":2100},{"d":"2005-09-04","v":4900},{"d":"2005-09-05","v":2700},{"d":"2005-09-06","v":5600},{"d":"2005-09-07","v":2000},{"d":"2005-09-08","v":4200},{"d":"2005-09-09","v":2900},{"d":"2005-09-10","v":6700},{"d":"2005-09-11","v":2300},{"d":"2005-09-12","v":4500},{"d":"2005-09-13","v":-600},{"d":"2005-09-14","v":3600},{"d":"2005-09-15","v":2500},{"d":"2005-09-16","v":8000},{"d":"2005-09-17","v":2800},{"d":"2005-09-18","v":5200},{"d":"2005-09-19","v":2400},{"d":"2005-09-20","v":10600},{"d":"2005-09-21","v":3100},{"d":"2005-09-22","v":6100},{"d":"2005-09-23","v":2600},{"d":"2005-09-24","v":5400},{"d":"2005-09-25","v":10600},{"d":"2005-09-26","v":3000},{"d":"2005-09-27","v":5800},{"d":"2005-09-28","v":2500},{"d":"2005-09-29","v":7600},{"d":"2005-09-30","v":3200},
{"d":"2005-10-01","v":10600},{"d":"2005-10-02","v":2900},{"d":"2005-10-03","v":6300},{"d":"2005-10-04","v":2400},{"d":"2005-10-05","v":5100},{"d":"2005-10-06","v":3300},{"d":"2005-10-07","v":7000},{"d":"2005-10-08","v":2700},{"d":"2005-10-09","v":4800},{"d":"2005-10-10","v":2200},{"d":"2005-10-11","v":-600},{"d":"2005-10-12","v":3900},{"d":"2005-10-13","v":2800},{"d":"2005-10-14","v":6500},{"d":"2005-10-15","v":2300},{"d":"2005-10-16","v":5300},{"d":"2005-10-17","v":3100},{"d":"2005-10-18","v":7800},{"d":"2005-10-19","v":2600},{"d":"2005-10-20","v":4900},{"d":"2005-10-21","v":3400},{"d":"2005-10-22","v":6800},{"d":"2005-10-23","v":2500},{"d":"2005-10-24","v":5600},{"d":"2005-10-25","v":3000},{"d":"2005-10-26","v":8500},{"d":"2005-10-27","v":2800},{"d":"2005-10-28","v":5200},{"d":"2005-10-29","v":3500},{"d":"2005-10-30","v":7200},{"d":"2005-10-31","v":2700},
{"d":"2005-11-01","v":6000},{"d":"2005-11-02","v":10600},{"d":"2005-11-03","v":3300},{"d":"2005-11-04","v":6700},{"d":"2005-11-05","v":2600},{"d":"2005-11-06","v":5400},{"d":"2005-11-07","v":3200},{"d":"2005-11-08","v":10600},{"d":"2005-11-09","v":2900},{"d":"2005-11-10","v":6200},{"d":"2005-11-11","v":3600},{"d":"2005-11-12","v":7900},{"d":"2005-11-13","v":2700},{"d":"2005-11-14","v":5500},{"d":"2005-11-15","v":3100},{"d":"2005-11-16","v":8300},{"d":"2005-11-17","v":2800},{"d":"2005-11-18","v":6100},{"d":"2005-11-19","v":3400},{"d":"2005-11-20","v":10600},{"d":"2005-11-21","v":3000},{"d":"2005-11-22","v":6900},{"d":"2005-11-23","v":10600},{"d":"2005-11-24","v":3200},{"d":"2005-11-25","v":5800},{"d":"2005-11-26","v":2500},{"d":"2005-11-27","v":7400},{"d":"2005-11-28","v":3300},{"d":"2005-11-29","v":5000},{"d":"2005-11-30","v":2700},
{"d":"2005-12-01","v":6600},{"d":"2005-12-02","v":3000},{"d":"2005-12-03","v":4800},{"d":"2005-12-04","v":2400},{"d":"2005-12-05","v":7100},{"d":"2005-12-06","v":2900},{"d":"2005-12-07","v":5300},{"d":"2005-12-08","v":2200},{"d":"2005-12-09","v":6000},{"d":"2005-12-10","v":3100},{"d":"2005-12-11","v":4500},{"d":"2005-12-12","v":2600},{"d":"2005-12-13","v":6800},{"d":"2005-12-14","v":2300},{"d":"2005-12-15","v":5100},{"d":"2005-12-16","v":3000},{"d":"2005-12-17","v":7300},{"d":"2005-12-18","v":2500},{"d":"2005-12-19","v":4700},{"d":"2005-12-20","v":2800},{"d":"2005-12-21","v":6200},{"d":"2005-12-22","v":2100},{"d":"2005-12-23","v":5500},{"d":"2005-12-24","v":3300},{"d":"2005-12-25","v":6900},{"d":"2005-12-26","v":2400},{"d":"2005-12-27","v":4900},{"d":"2005-12-28","v":2700},{"d":"2005-12-29","v":5600},{"d":"2005-12-30","v":8000},{"d":"2005-12-31","v":-100}
],
"pal":[
{"d":"2004-07-01","v":2500},{"d":"2004-07-02","v":-600},{"d":"2004-07-03","v":3300},{"d":"2004-07-04","v":1500},{"d":"2004-07-05","v":2200},{"d":"2004-07-06","v":900},{"d":"2004-07-07","v":1800},{"d":"2004-07-08","v":1100},{"d":"2004-07-09","v":2000},{"d":"2004-07-10","v":800},{"d":"2004-07-11","v":1600},{"d":"2004-07-13","v":1200},{"d":"2004-07-14","v":-600},{"d":"2004-07-15","v":1900},{"d":"2004-07-16","v":1000},{"d":"2004-07-18","v":2400},{"d":"2004-07-19","v":900},{"d":"2004-07-20","v":1600},{"d":"2004-07-22","v":2600},{"d":"2004-07-23","v":1100},{"d":"2004-07-24","v":3000},{"d":"2004-07-25","v":1400},{"d":"2004-07-26","v":800},{"d":"2004-07-28","v":2000},{"d":"2004-07-29","v":1200},{"d":"2004-07-31","v":2300},
{"d":"2004-08-01","v":900},{"d":"2004-08-03","v":1800},{"d":"2004-08-04","v":600},{"d":"2004-08-06","v":3700},{"d":"2004-08-07","v":1500},{"d":"2004-08-08","v":2200},{"d":"2004-08-10","v":1000},{"d":"2004-08-11","v":1800},{"d":"2004-08-13","v":700},{"d":"2004-08-15","v":1600},{"d":"2004-08-16","v":1000},{"d":"2004-08-18","v":1900},{"d":"2004-08-19","v":800},{"d":"2004-08-21","v":1500},{"d":"2004-08-22","v":700},{"d":"2004-08-23","v":-600},{"d":"2004-08-24","v":1600},{"d":"2004-08-25","v":1100},{"d":"2004-08-27","v":1700},{"d":"2004-08-29","v":900},{"d":"2004-08-31","v":2000},
{"d":"2004-09-01","v":1200},{"d":"2004-09-03","v":2300},{"d":"2004-09-04","v":800},{"d":"2004-09-06","v":1600},{"d":"2004-09-07","v":600},{"d":"2004-09-09","v":2000},{"d":"2004-09-11","v":1300},{"d":"2004-09-13","v":6500},{"d":"2004-09-14","v":2500},{"d":"2004-09-15","v":4200},{"d":"2004-09-16","v":1800},{"d":"2004-09-17","v":3000},{"d":"2004-09-18","v":1200},{"d":"2004-09-20","v":1800},{"d":"2004-09-21","v":1000},{"d":"2004-09-22","v":3000},{"d":"2004-09-23","v":1300},{"d":"2004-09-24","v":900},{"d":"2004-09-26","v":2200},{"d":"2004-09-27","v":1000},{"d":"2004-09-29","v":700},{"d":"2004-09-30","v":1900},
{"d":"2004-10-02","v":600},{"d":"2004-10-04","v":2000},{"d":"2004-10-05","v":700},{"d":"2004-10-07","v":1500},{"d":"2004-10-08","v":500},{"d":"2004-10-10","v":2100},{"d":"2004-10-11","v":600},{"d":"2004-10-13","v":1400},{"d":"2004-10-14","v":400},{"d":"2004-10-16","v":1200},{"d":"2004-10-18","v":300},{"d":"2004-10-19","v":-300},{"d":"2004-10-20","v":300},{"d":"2004-10-22","v":400},{"d":"2004-10-24","v":200},{"d":"2004-10-26","v":500},{"d":"2004-10-28","v":200},{"d":"2004-10-30","v":700},
{"d":"2004-11-01","v":200},{"d":"2004-11-03","v":900},{"d":"2004-11-05","v":300},{"d":"2004-11-07","v":1200},{"d":"2004-11-09","v":300},{"d":"2004-11-11","v":500},{"d":"2004-11-13","v":200},{"d":"2004-11-15","v":900},{"d":"2004-11-17","v":200},{"d":"2004-11-19","v":600},{"d":"2004-11-21","v":300},{"d":"2004-11-23","v":1300},{"d":"2004-11-25","v":300},{"d":"2004-11-27","v":700},{"d":"2004-11-29","v":200},
{"d":"2004-12-01","v":500},{"d":"2004-12-03","v":900},{"d":"2004-12-05","v":200},{"d":"2004-12-07","v":1100},{"d":"2004-12-09","v":300},{"d":"2004-12-11","v":600},{"d":"2004-12-13","v":200},{"d":"2004-12-15","v":1000},{"d":"2004-12-17","v":300},{"d":"2004-12-19","v":500},{"d":"2004-12-21","v":200},{"d":"2004-12-23","v":1100},{"d":"2004-12-25","v":400},{"d":"2004-12-27","v":600},{"d":"2004-12-29","v":300},{"d":"2004-12-31","v":400},{"d":"2005-01-01","v":100}
]
},
"vconcat":[
{"width":1354,"height":248,
"resolve":{"axis":{"x":"independent","y":"independent"}},
"layer":[
{"data":{"name":"son"},"mark":{"type":"line","clip":true,"strokeWidth":1.1},
"encoding":{
"x":{"field":"d","type":"temporal","scale":{"type":"utc","domain":[{"year":2004,"month":7,"date":1,"utc":true},{"year":2007,"month":2,"date":1,"utc":true}],"nice":false},
"axis":{"orient":"bottom","tickCount":{"interval":"month","step":3},"grid":true,"tickSize":21,"offset":-10,"labels":false,"title":null}},
"y":{"field":"v","type":"quantitative","scale":{"domain":[-500,10500],"nice":false,"zero":false},
"axis":{"orient":"left","values":[0,2000,4000,6000,8000,10000],"grid":true,"tickSize":24,"offset":-10,"minExtent":88,"maxExtent":88,"labelPadding":6,"labelFontSize":17,"labelExpr":"datum.value == 0 ? '0,0' : datum.value < 10000 ? (datum.value/1000) + ',0x10³' : '1,0x10⁴'","title":"Sonnblick [1/ccm]","titleFontSize":26,"titlePadding":22}},
"color":{"datum":"Sonnblick","scale":{"domain":["Sonnblick"],"range":["#0b8a0b"]},"legend":{"legendX":17,"legendY":9}}}},
{"data":{"values":[]},"mark":{"type":"line"},"encoding":{
"x":{"field":"d","type":"temporal","axis":{"orient":"bottom","tickCount":{"interval":"month","step":1},"grid":true,"gridDash":[2,4],"tickSize":11,"offset":-6,"labels":false,"title":null}},
"y":{"field":"v","type":"quantitative","axis":{"orient":"left","values":[1000,3000,5000,7000,9000],"grid":true,"gridDash":[2,4],"tickSize":17,"offset":-10,"labels":false,"title":null}}}},
{"data":{"values":[]},"mark":{"type":"line"},"encoding":{
"x":{"field":"d","type":"temporal","axis":{"orient":"top","tickCount":{"interval":"month","step":3},"grid":false,"tickSize":21,"offset":-10,"labels":true,"labelExpr":"utcFormat(datum.value, '%d.%m.%Y')","labelFontSize":21,"labelFontWeight":"bold","labelPadding":12,"title":null}},
"y":{"field":"v","type":"quantitative","axis":{"orient":"right","values":[0,2000,4000,6000,8000,10000],"grid":false,"tickSize":24,"offset":-11,"labelPadding":6,"labelFontSize":17,"labelExpr":"datum.value == 0 ? '0,0' : datum.value < 10000 ? (datum.value/1000) + ',0x10³' : '1,0x10⁴'","title":null}}}},
{"data":{"values":[]},"mark":{"type":"line"},"encoding":{
"x":{"field":"d","type":"temporal","axis":{"orient":"top","tickCount":{"interval":"month","step":1},"grid":false,"tickSize":11,"offset":-6,"labels":false,"title":null}},
"y":{"field":"v","type":"quantitative","axis":{"orient":"right","values":[1000,3000,5000,7000,9000],"grid":false,"tickSize":17,"offset":-11,"labels":false,"title":null}}}}
]},
{"width":1354,"height":248,
"resolve":{"axis":{"x":"independent","y":"independent"}},
"layer":[
{"data":{"name":"jun"},"mark":{"type":"line","clip":true,"strokeWidth":1.2},
"encoding":{
"x":{"field":"d","type":"temporal","scale":{"type":"utc","domain":[{"year":2004,"month":7,"date":1,"utc":true},{"year":2007,"month":2,"date":1,"utc":true}],"nice":false},
"axis":{"orient":"bottom","tickCount":{"interval":"month","step":3},"grid":true,"tickSize":21,"offset":-10,"labels":false,"title":null}},
"y":{"field":"v","type":"quantitative","scale":{"domain":[-500,10500],"nice":false,"zero":false},
"axis":{"orient":"left","values":[0,2000,4000,6000,8000,10000],"grid":true,"tickSize":24,"offset":-10,"minExtent":88,"maxExtent":88,"labelPadding":6,"labelFontSize":17,"labelExpr":"datum.value == 0 ? '0,0' : datum.value < 10000 ? (datum.value/1000) + ',0x10³' : '1,0x10⁴'","title":"Jungfraujoch [1/ccm]","titleFontSize":23,"titlePadding":22}},
"color":{"datum":"Jungfraujoch","scale":{"domain":["Jungfraujoch"],"range":["#12129a"]},"legend":{"legendX":14,"legendY":10}}}},
{"data":{"values":[]},"mark":{"type":"line"},"encoding":{
"x":{"field":"d","type":"temporal","axis":{"orient":"bottom","tickCount":{"interval":"month","step":1},"grid":true,"gridDash":[2,4],"tickSize":11,"offset":-6,"labels":false,"title":null}},
"y":{"field":"v","type":"quantitative","axis":{"orient":"left","values":[1000,3000,5000,7000,9000],"grid":true,"gridDash":[2,4],"tickSize":17,"offset":-10,"labels":false,"title":null}}}},
{"data":{"values":[]},"mark":{"type":"line"},"encoding":{
"x":{"field":"d","type":"temporal","axis":{"orient":"top","tickCount":{"interval":"month","step":3},"grid":false,"tickSize":21,"offset":-11,"labels":false,"title":null}},
"y":{"field":"v","type":"quantitative","axis":{"orient":"right","values":[0,2000,4000,6000,8000,10000],"grid":false,"tickSize":24,"offset":-11,"labelPadding":6,"labelFontSize":17,"labelExpr":"datum.value == 0 ? '0,0' : datum.value < 10000 ? (datum.value/1000) + ',0x10³' : '1,0x10⁴'","title":null}}}},
{"data":{"values":[]},"mark":{"type":"line"},"encoding":{
"x":{"field":"d","type":"temporal","axis":{"orient":"top","tickCount":{"interval":"month","step":1},"grid":false,"tickSize":11,"offset":-6,"labels":false,"title":null}},
"y":{"field":"v","type":"quantitative","axis":{"orient":"right","values":[1000,3000,5000,7000,9000],"grid":false,"tickSize":17,"offset":-11,"labels":false,"title":null}}}}
]},
{"width":1354,"height":248,
"resolve":{"axis":{"x":"independent","y":"independent"}},
"layer":[
{"data":{"name":"hoh"},"mark":{"type":"line","clip":true,"strokeWidth":1.5},
"encoding":{
"x":{"field":"d","type":"temporal","scale":{"type":"utc","domain":[{"year":2004,"month":7,"date":1,"utc":true},{"year":2007,"month":2,"date":1,"utc":true}],"nice":false},
"axis":{"orient":"bottom","tickCount":{"interval":"month","step":3},"grid":true,"tickSize":21,"offset":-10,"labels":false,"title":null}},
"y":{"field":"v","type":"quantitative","scale":{"domain":[-500,10500],"nice":false,"zero":false},
"axis":{"orient":"left","values":[0,2000,4000,6000,8000,10000],"grid":true,"tickSize":24,"offset":-10,"minExtent":88,"maxExtent":88,"labelPadding":6,"labelFontSize":17,"labelExpr":"datum.value == 0 ? '0,0' : datum.value < 10000 ? (datum.value/1000) + ',0x10³' : '1,0x10⁴'","title":"Hohenpeissenberg [1/ccm]","titleFontSize":20.5,"titlePadding":22}},
"color":{"datum":"Hohenpeissenberg","scale":{"domain":["Hohenpeissenberg"],"range":["#800000"]},"legend":{"legendX":12,"legendY":11}}}},
{"data":{"values":[]},"mark":{"type":"line"},"encoding":{
"x":{"field":"d","type":"temporal","axis":{"orient":"bottom","tickCount":{"interval":"month","step":1},"grid":true,"gridDash":[2,4],"tickSize":11,"offset":-6,"labels":false,"title":null}},
"y":{"field":"v","type":"quantitative","axis":{"orient":"left","values":[1000,3000,5000,7000,9000],"grid":true,"gridDash":[2,4],"tickSize":17,"offset":-10,"labels":false,"title":null}}}},
{"data":{"values":[]},"mark":{"type":"line"},"encoding":{
"x":{"field":"d","type":"temporal","axis":{"orient":"top","tickCount":{"interval":"month","step":3},"grid":false,"tickSize":21,"offset":-11,"labels":false,"title":null}},
"y":{"field":"v","type":"quantitative","axis":{"orient":"right","values":[0,2000,4000,6000,8000,10000],"grid":false,"tickSize":24,"offset":-11,"labelPadding":6,"labelFontSize":17,"labelExpr":"datum.value == 0 ? '0,0' : datum.value < 10000 ? (datum.value/1000) + ',0x10³' : '1,0x10⁴'","title":null}}}},
{"data":{"values":[]},"mark":{"type":"line"},"encoding":{
"x":{"field":"d","type":"temporal","axis":{"orient":"top","tickCount":{"interval":"month","step":1},"grid":false,"tickSize":11,"offset":-6,"labels":false,"title":null}},
"y":{"field":"v","type":"quantitative","axis":{"orient":"right","values":[1000,3000,5000,7000,9000],"grid":false,"tickSize":17,"offset":-11,"labels":false,"title":null}}}}
]},
{"width":1354,"height":248,
"resolve":{"axis":{"x":"independent","y":"independent"}},
"layer":[
{"data":{"name":"pal"},"mark":{"type":"line","clip":true,"strokeWidth":1.1},
"encoding":{
"x":{"field":"d","type":"temporal","scale":{"type":"utc","domain":[{"year":2004,"month":7,"date":1,"utc":true},{"year":2007,"month":2,"date":1,"utc":true}],"nice":false},
"axis":{"orient":"bottom","tickCount":{"interval":"month","step":3},"grid":true,"tickSize":21,"offset":-10,"labels":true,"labelExpr":"utcFormat(datum.value, '%d.%m.%Y')","labelFontSize":21,"labelFontWeight":"bold","labelPadding":2,"title":null}},
"y":{"field":"v","type":"quantitative","scale":{"domain":[-500,10500],"nice":false,"zero":false},
"axis":{"orient":"left","values":[0,2000,4000,6000,8000,10000],"grid":true,"tickSize":24,"offset":-10,"minExtent":88,"maxExtent":88,"labelPadding":6,"labelFontSize":17,"labelExpr":"datum.value == 0 ? '0,0' : datum.value < 10000 ? (datum.value/1000) + ',0x10³' : '1,0x10⁴'","title":"Pallas [1/ccm]","titleFontSize":23,"titlePadding":22}},
"color":{"datum":"Pallas","scale":{"domain":["Pallas"],"range":["#ff8c00"]},"legend":{"legendX":19,"legendY":10}}}},
{"data":{"values":[]},"mark":{"type":"line"},"encoding":{
"x":{"field":"d","type":"temporal","axis":{"orient":"bottom","tickCount":{"interval":"month","step":1},"grid":true,"gridDash":[2,4],"tickSize":11,"offset":-6,"labels":false,"title":null}},
"y":{"field":"v","type":"quantitative","axis":{"orient":"left","values":[1000,3000,5000,7000,9000],"grid":true,"gridDash":[2,4],"tickSize":17,"offset":-10,"labels":false,"title":null}}}},
{"data":{"values":[]},"mark":{"type":"line"},"encoding":{
"x":{"field":"d","type":"temporal","axis":{"orient":"top","tickCount":{"interval":"month","step":3},"grid":false,"tickSize":21,"offset":-11,"labels":false,"title":null}},
"y":{"field":"v","type":"quantitative","axis":{"orient":"right","values":[0,2000,4000,6000,8000,10000],"grid":false,"tickSize":24,"offset":-11,"labelPadding":6,"labelFontSize":17,"labelExpr":"datum.value == 0 ? '0,0' : datum.value < 10000 ? (datum.value/1000) + ',0x10³' : '1,0x10⁴'","title":null}}}},
{"data":{"values":[]},"mark":{"type":"line"},"encoding":{
"x":{"field":"d","type":"temporal","axis":{"orient":"top","tickCount":{"interval":"month","step":1},"grid":false,"tickSize":11,"offset":-6,"labels":false,"title":null}},
"y":{"field":"v","type":"quantitative","axis":{"orient":"right","values":[1000,3000,5000,7000,9000],"grid":false,"tickSize":17,"offset":-11,"labels":false,"title":null}}}},
{"data":{"values":[{}]},"mark":{"type":"text","align":"right","baseline":"alphabetic","font":"DejaVu Sans","fontSize":30,"lineHeight":38.5,"color":"#000","text":["World Data Center on","Greenhouse Gases","2008/11"]},
"encoding":{"x":{"datum":{"year":2006,"month":12,"date":12,"utc":true},"type":"temporal","axis":null},"y":{"datum":5200,"type":"quantitative","axis":null}}}
]}
]
}
